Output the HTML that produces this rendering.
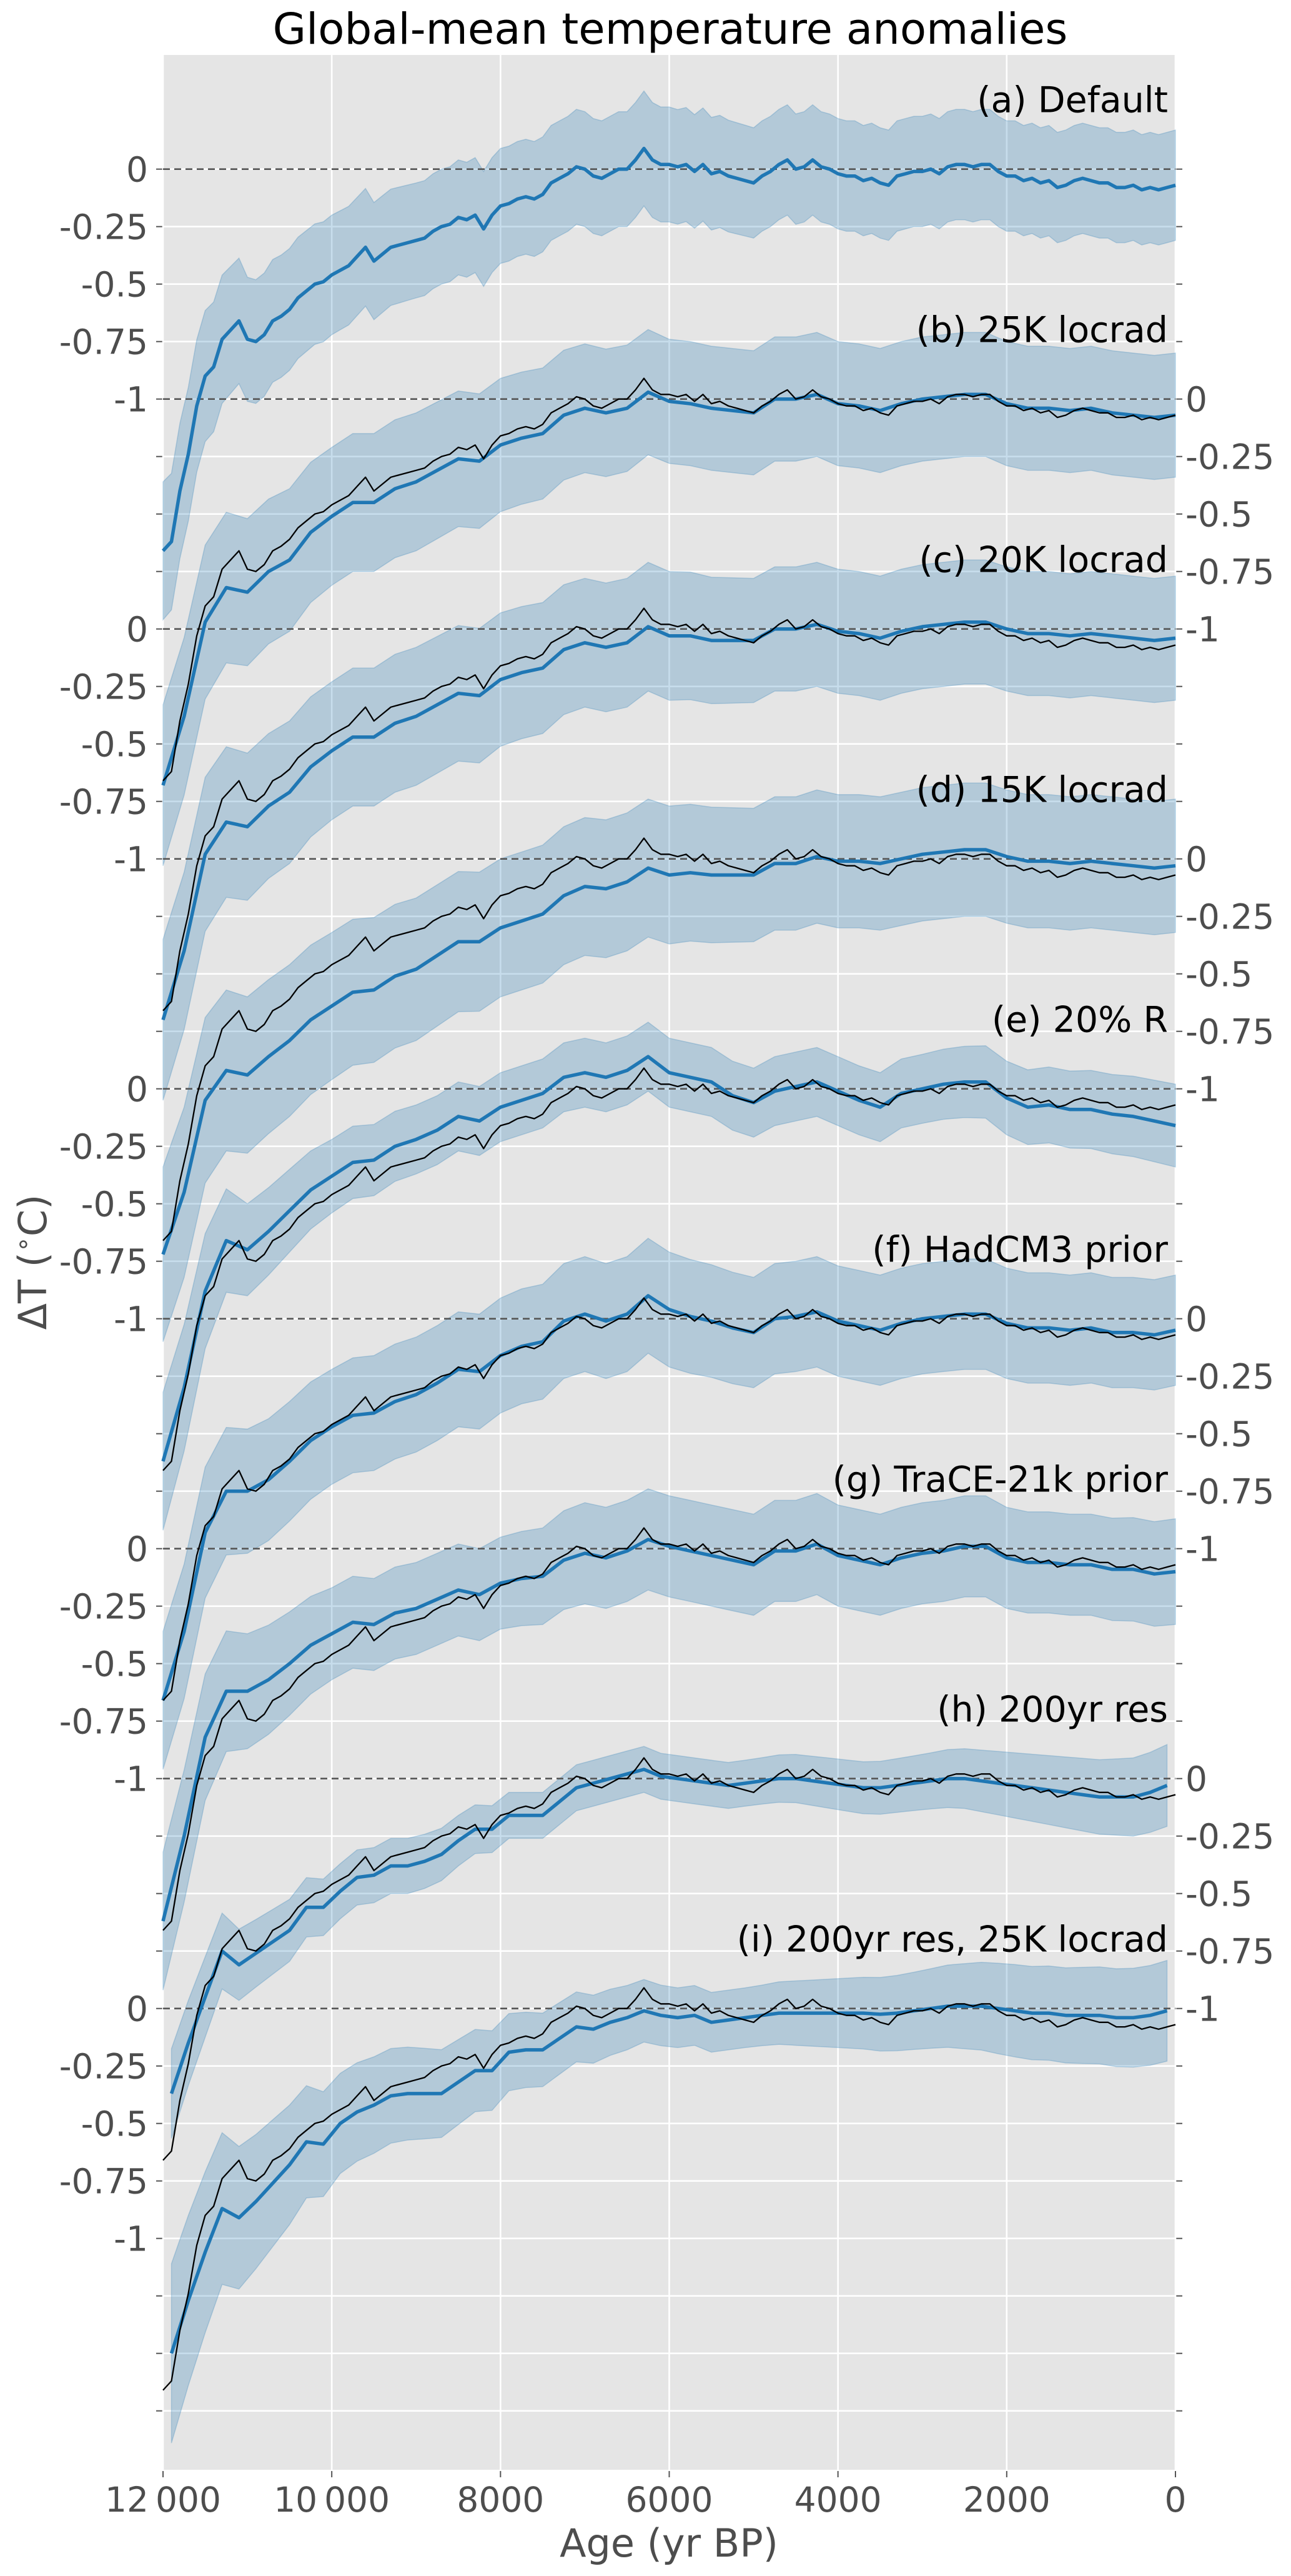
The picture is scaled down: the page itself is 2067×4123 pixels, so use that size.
<!DOCTYPE html>
<html><head><meta charset="utf-8">
<style>
html,body{margin:0;padding:0;background:#fff;}
svg{display:block;font-family:"DejaVu Sans","Liberation Sans",sans-serif;}
</style></head>
<body>
<svg id="chart" xmlns="http://www.w3.org/2000/svg" width="2067" height="4123" viewBox="0 0 2067 4123">
<rect x="0" y="0" width="2067" height="4123" fill="#ffffff"/>
<text x="1073" y="70" font-size="69" text-anchor="middle" fill="#000">Global-mean temperature anomalies</text>
<g id="plot"></g>
<text x="1071" y="4092" font-size="62" text-anchor="middle" fill="#4d4d4d">Age (yr BP)</text>
<text transform="translate(74,2020) rotate(-90)" font-size="62" text-anchor="middle" fill="#4d4d4d">ΔT (<tspan font-size="40" dy="-24">∘</tspan><tspan dy="24">C)</tspan></text>
</svg>
<script>
// ---- data ----
const xTickValues = [12000, 10000, 8000, 6000, 4000, 2000, 0];
const xTickLabels = ["12\u2009000", "10\u2009000", "8000", "6000", "4000", "2000", "0"];
const panelTickValues = [0, -0.25, -0.5, -0.75, -1];
const panelTickLabels = ["0", "-0.25", "-0.5", "-0.75", "-1"];
const panelNames = ["(a) Default", "(b) 25K locrad", "(c) 20K locrad", "(d) 15K locrad", "(e) 20% R", "(f) HadCM3 prior", "(g) TraCE-21k prior", "(h) 200yr res", "(i) 200yr res, 25K locrad"];
const panelOffsets = [0, -1, -2, -3, -4, -5, -6, -7, -8];
const hwAges = [12000, 11000, 10000, 9000, 8000, 7000, 6000, 5000, 4000, 3000, 2000, 1000, 0];

// reference (default) reconstruction, 100-yr steps from 12000 to 0 BP
const refValues = [
-1.66,-1.62,-1.40,-1.24,-1.03,-0.90,-0.86,-0.74,-0.70,-0.66,
-0.74,-0.75,-0.72,-0.66,-0.64,-0.61,-0.56,-0.53,-0.50,-0.49,
-0.46,-0.44,-0.42,-0.38,-0.34,-0.40,-0.37,-0.34,-0.33,-0.32,
-0.31,-0.30,-0.27,-0.25,-0.24,-0.21,-0.22,-0.20,-0.26,-0.20,
-0.16,-0.15,-0.13,-0.12,-0.13,-0.11,-0.06,-0.04,-0.02,0.01,
0.00,-0.03,-0.04,-0.02,0.00,0.00,0.04,0.09,0.04,0.02,
0.02,0.01,0.02,-0.01,0.02,-0.02,-0.01,-0.03,-0.04,-0.05,
-0.06,-0.03,-0.01,0.02,0.04,0.00,0.01,0.04,0.01,0.00,
-0.02,-0.03,-0.03,-0.05,-0.04,-0.06,-0.07,-0.03,-0.02,-0.01,
-0.01,0.00,-0.02,0.01,0.02,0.02,0.01,0.02,0.02,-0.01,
-0.03,-0.03,-0.05,-0.04,-0.06,-0.05,-0.08,-0.07,-0.05,-0.04,
-0.05,-0.06,-0.06,-0.08,-0.08,-0.07,-0.09,-0.08,-0.09,-0.08,
-0.07];
const hwA = [0.30,0.27,0.26,0.25,0.25,0.25,0.25,0.24,0.24,0.24,0.24,0.24,0.24];

// 250-yr step series (12000 -> 0)
const meanB = [-1.68,-1.38,-0.97,-0.82,-0.84,-0.75,-0.70,-0.58,-0.51,-0.45,-0.45,-0.39,-0.36,-0.31,-0.26,-0.27,-0.20,-0.17,-0.15,-0.07,-0.04,-0.06,-0.04,0.03,-0.01,-0.02,-0.04,-0.05,-0.06,0.00,0.00,0.02,-0.02,-0.03,-0.05,-0.02,0.00,0.01,0.02,0.02,-0.02,-0.04,-0.04,-0.05,-0.04,-0.06,-0.07,-0.08,-0.07];
const hwB = [0.35,0.32,0.30,0.30,0.29,0.28,0.27,0.27,0.27,0.27,0.27,0.27,0.27];
const meanC = [-1.70,-1.40,-0.98,-0.84,-0.86,-0.77,-0.71,-0.60,-0.53,-0.47,-0.47,-0.41,-0.38,-0.33,-0.28,-0.29,-0.22,-0.19,-0.17,-0.09,-0.06,-0.08,-0.06,0.01,-0.03,-0.03,-0.05,-0.05,-0.05,0.00,0.00,0.02,-0.01,-0.02,-0.04,-0.01,0.01,0.02,0.03,0.03,0.00,-0.02,-0.02,-0.03,-0.02,-0.03,-0.04,-0.05,-0.04];
const hwC = [0.35,0.32,0.30,0.30,0.29,0.28,0.28,0.27,0.27,0.27,0.27,0.27,0.27];
const meanD = [-1.72,-1.45,-1.05,-0.92,-0.94,-0.86,-0.79,-0.70,-0.64,-0.58,-0.57,-0.51,-0.48,-0.42,-0.36,-0.36,-0.30,-0.27,-0.24,-0.16,-0.12,-0.13,-0.10,-0.04,-0.07,-0.06,-0.07,-0.07,-0.07,-0.02,-0.02,0.01,-0.01,-0.01,-0.02,0.00,0.02,0.03,0.04,0.04,0.01,-0.01,-0.01,-0.02,-0.01,-0.02,-0.03,-0.04,-0.03];
const hwD = [0.38,0.34,0.32,0.31,0.30,0.30,0.30,0.29,0.29,0.29,0.29,0.29,0.29];
const meanE = [-1.62,-1.30,-0.88,-0.66,-0.70,-0.62,-0.53,-0.44,-0.38,-0.32,-0.31,-0.25,-0.22,-0.18,-0.12,-0.14,-0.08,-0.05,-0.02,0.05,0.07,0.05,0.08,0.14,0.07,0.05,0.03,-0.03,-0.06,-0.01,0.01,0.03,-0.01,-0.05,-0.08,-0.02,0.00,0.02,0.03,0.03,-0.04,-0.08,-0.07,-0.09,-0.09,-0.11,-0.12,-0.14,-0.16];
const hwE = [0.30,0.20,0.16,0.15,0.15,0.15,0.15,0.15,0.15,0.15,0.16,0.17,0.18];
const meanF = [-1.66,-1.36,-0.93,-0.75,-0.75,-0.70,-0.62,-0.53,-0.47,-0.42,-0.41,-0.36,-0.33,-0.28,-0.22,-0.23,-0.16,-0.12,-0.10,-0.01,0.02,-0.01,0.02,0.10,0.04,0.01,-0.01,-0.04,-0.06,0.00,0.01,0.03,-0.01,-0.03,-0.05,-0.02,0.00,0.01,0.02,0.02,-0.02,-0.04,-0.04,-0.05,-0.04,-0.06,-0.06,-0.07,-0.05];
const hwF = [0.30,0.27,0.25,0.25,0.25,0.25,0.25,0.24,0.24,0.24,0.24,0.24,0.24];
const meanG = [-1.62,-1.25,-0.82,-0.62,-0.62,-0.57,-0.50,-0.42,-0.37,-0.32,-0.33,-0.28,-0.26,-0.22,-0.18,-0.20,-0.15,-0.13,-0.12,-0.05,-0.02,-0.04,-0.01,0.04,0.01,-0.01,-0.03,-0.05,-0.07,-0.01,-0.01,0.02,-0.03,-0.05,-0.07,-0.04,-0.02,-0.01,0.01,0.01,-0.04,-0.06,-0.06,-0.07,-0.07,-0.09,-0.09,-0.11,-0.10];
const hwG = [0.30,0.25,0.20,0.20,0.20,0.22,0.22,0.22,0.22,0.22,0.22,0.22,0.23];

// 200-yr step series (11900 -> 100)
const meanH = [-1.37,-1.15,-0.95,-0.75,-0.81,-0.76,-0.71,-0.66,-0.56,-0.56,-0.49,-0.43,-0.42,-0.38,-0.38,-0.36,-0.33,-0.27,-0.22,-0.22,-0.16,-0.16,-0.16,-0.10,-0.04,-0.02,0.00,0.02,0.04,0.01,0.00,-0.01,-0.02,-0.03,-0.02,-0.01,0.00,0.00,-0.01,-0.02,-0.03,-0.04,-0.04,-0.03,-0.02,-0.01,0.00,0.00,-0.01,-0.02,-0.03,-0.04,-0.05,-0.06,-0.07,-0.08,-0.08,-0.08,-0.06,-0.03];
const hwH = [0.20,0.15,0.12,0.12,0.10,0.10,0.10,0.10,0.11,0.12,0.14,0.16,0.18];
const meanI = [-1.50,-1.27,-1.06,-0.87,-0.91,-0.84,-0.76,-0.68,-0.58,-0.59,-0.50,-0.45,-0.42,-0.38,-0.37,-0.37,-0.37,-0.32,-0.27,-0.27,-0.19,-0.18,-0.18,-0.13,-0.08,-0.09,-0.06,-0.04,-0.01,-0.03,-0.04,-0.03,-0.06,-0.05,-0.04,-0.03,-0.02,-0.02,-0.02,-0.02,-0.02,-0.02,-0.025,-0.02,-0.01,0.00,0.01,0.01,0.01,0.00,-0.01,-0.02,-0.02,-0.03,-0.03,-0.03,-0.04,-0.04,-0.03,-0.01];
const hwI = [0.40,0.30,0.22,0.20,0.17,0.15,0.13,0.13,0.15,0.17,0.20,0.21,0.22];

// ---- axes ----
const X0 = 261, X1 = 1882, Y0 = 88, Y1 = 3953;
const yZero = 270.7, pxPerUnit = 368.0;
function xAge(a){ return X0 + (12000 - a) * (X1 - X0) / 12000; }
function yVal(v){ return yZero - v * pxPerUnit; }
function hwAt(arr, age){
  const t = (12000 - age) / 1000;
  const i = Math.max(0, Math.min(arr.length - 2, Math.floor(t)));
  const f = Math.max(0, Math.min(1, t - i));
  return arr[i] * (1 - f) + arr[i + 1] * f;
}
const NS = "http://www.w3.org/2000/svg";
const plot = document.getElementById("plot");
function mk(tag, attrs, parent){
  const e = document.createElementNS(NS, tag);
  for (const k in attrs) e.setAttribute(k, attrs[k]);
  (parent || plot).appendChild(e);
  return e;
}

const bg = mk("rect", {x: X0, y: Y0, width: X1 - X0, height: Y1 - Y0, fill: "#e5e5e5"});



for (let k = 0; k < 40; k++) {
  const v = -k * 0.25;
  const yy = yVal(v);
  const g = mk("line", {x1: X0, x2: X1, y1: yy, y2: yy, stroke: "#ffffff", "stroke-width": 2.6});
  
  
  const tl = mk("line", {x1: X0 - 11, x2: X0, y1: yy, y2: yy, stroke: "#555", "stroke-width": 2});
  
  
  const tr = mk("line", {x1: X1, x2: X1 + 11, y1: yy, y2: yy, stroke: "#555", "stroke-width": 2});
  
  
}
xTickValues.forEach((a, i) => {
  const xx = xAge(a);
  const g = mk("line", {x1: xx, x2: xx, y1: Y0, y2: Y1, stroke: "#ffffff", "stroke-width": 2.6});
  
  
  const t = mk("line", {x1: xx, x2: xx, y1: Y1 + 2, y2: Y1 + 12, stroke: "#555", "stroke-width": 2});
  
  
  const lb = mk("text", {x: xx, y: 4020, "font-size": 55, "text-anchor": "middle", fill: "#4d4d4d"});
  lb.textContent = xTickLabels[i];
  
  
});

panelOffsets.forEach((base, p) => {
  panelTickValues.forEach((v, j) => {
    const yy = yVal(base + v);
    const left = (p % 2 === 0);
    const lb = mk("text", {x: left ? 237 : 1898, y: yy + 20, "font-size": 55, "text-anchor": left ? "end" : "start", fill: "#4d4d4d"});
    lb.textContent = panelTickLabels[j];
    
    
  });
});

const panels = [
  {mean: refValues, hw: hwA, start: 12000, step: 100, ref: false},
  {mean: meanB, hw: hwB, start: 12000, step: 250, ref: true},
  {mean: meanC, hw: hwC, start: 12000, step: 250, ref: true},
  {mean: meanD, hw: hwD, start: 12000, step: 250, ref: true},
  {mean: meanE, hw: hwE, start: 12000, step: 250, ref: true},
  {mean: meanF, hw: hwF, start: 12000, step: 250, ref: true},
  {mean: meanG, hw: hwG, start: 12000, step: 250, ref: true},
  {mean: meanH, hw: hwH, start: 11900, step: 200, ref: true},
  {mean: meanI, hw: hwI, start: 11900, step: 200, ref: true}
];

function linePath(vals, start, step, base){
  return vals.map((v, i) => (i ? "L" : "M") + xAge(start - i * step).toFixed(1) + "," + yVal(base + v).toFixed(1)).join("");
}

panels.forEach((pn, p) => {
  const base = panelOffsets[p];
  const up = [], lo = [];
  pn.mean.forEach((v, i) => {
    const a = pn.start - i * pn.step;
    const h = hwAt(pn.hw, a);
    up.push(xAge(a).toFixed(1) + "," + yVal(base + v + h).toFixed(1));
    lo.push(xAge(a).toFixed(1) + "," + yVal(base + v - h).toFixed(1));
  });
  const band = mk("polygon", {points: up.concat(lo.reverse()).join(" "), fill: "#1f77b4", "fill-opacity": 0.25, stroke: "#1f77b4", "stroke-opacity": 0.25, "stroke-width": 1.5});
  
  
});

panelOffsets.forEach((base) => {
  const yy = yVal(base);
  const d = mk("line", {x1: X0, x2: X1, y1: yy, y2: yy, stroke: "#555", "stroke-width": 2.6, "stroke-dasharray": "11 7"});
  
  
});

panels.forEach((pn, p) => {
  const base = panelOffsets[p];
  const bl = mk("path", {d: linePath(pn.mean, pn.start, pn.step, base), fill: "none", stroke: "#1f77b4", "stroke-width": 5.5, "stroke-linejoin": "round"});
  
  
  if (pn.ref) {
    const rl = mk("path", {d: linePath(refValues, 12000, 100, base), fill: "none", stroke: "#000", "stroke-width": 2.3, "stroke-linejoin": "round"});
    
    
  }
  const lab = mk("text", {x: 1870, y: yVal(base) - 91, "font-size": 57, "text-anchor": "end", fill: "#000"});
  lab.textContent = panelNames[p];
  
  
});
</script>
</body></html>
